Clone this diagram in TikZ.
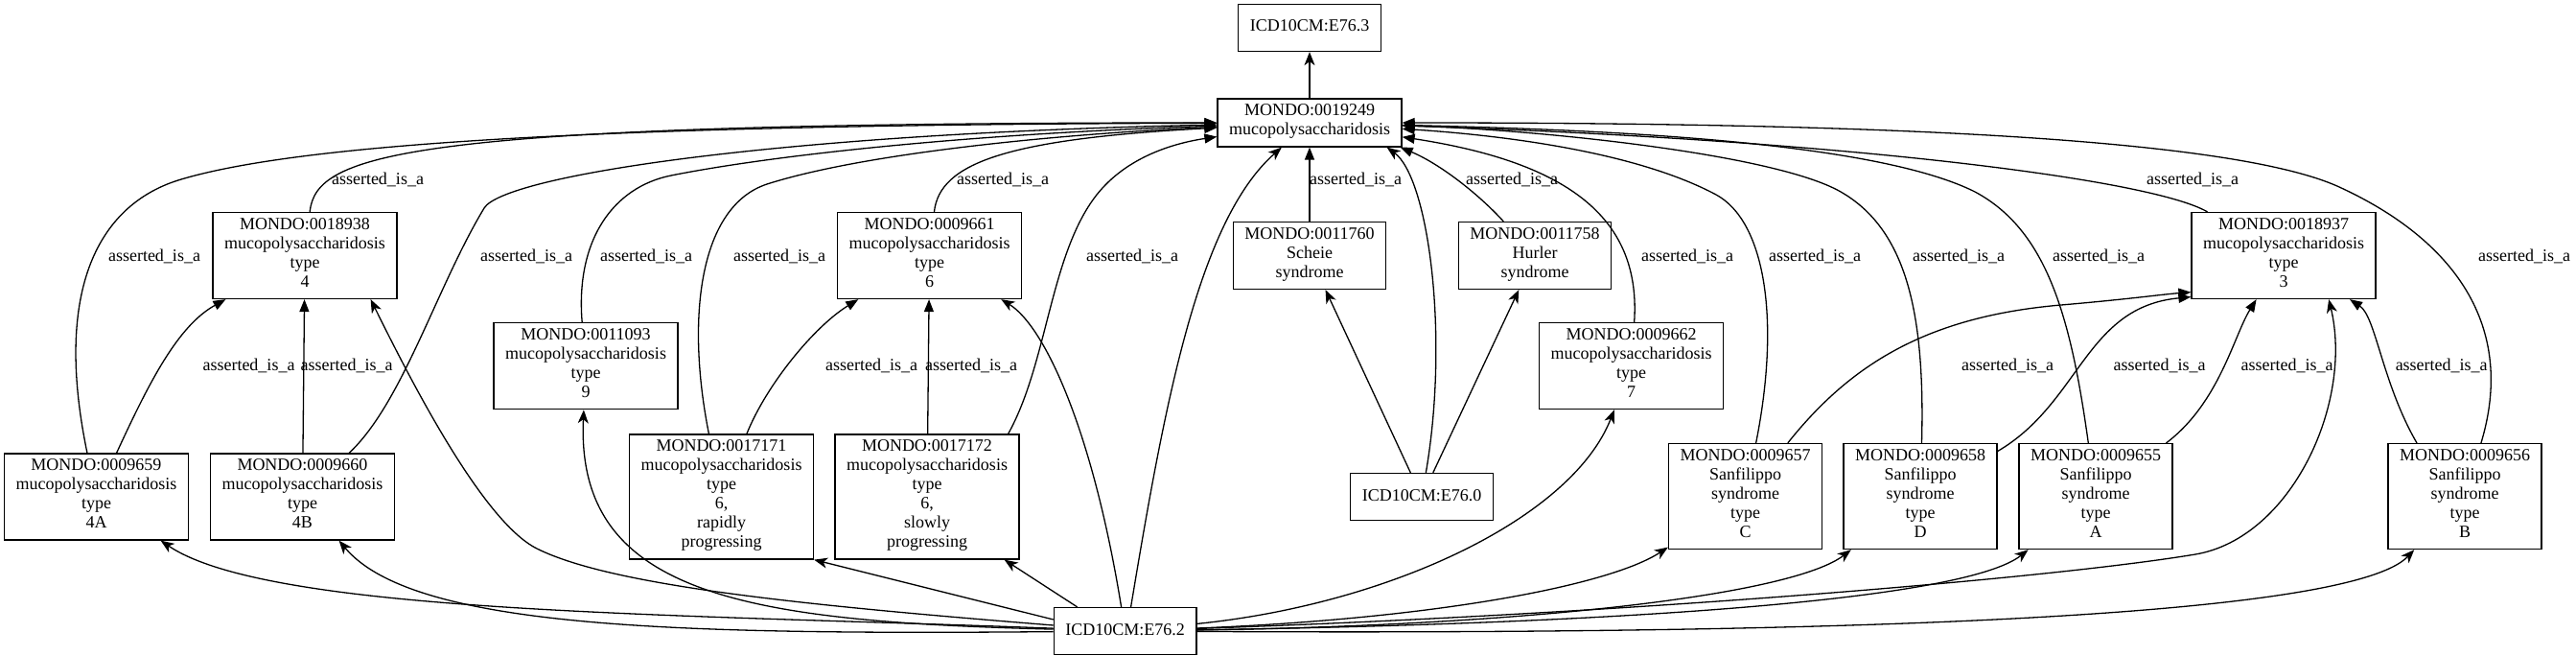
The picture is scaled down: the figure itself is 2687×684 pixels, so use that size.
\documentclass[tikz,border=0pt]{standalone}
\usepackage{fontspec}
\setmainfont{Liberation Serif}
\usetikzlibrary{arrows.meta}
\tikzset{
  term/.style={draw, rectangle, align=center, line width=0.65pt, inner xsep=6pt, inner ysep=3pt,
    minimum height=24.5pt, font=\fontsize{9}{10}\selectfont,
    execute at begin node=\strut, execute at end node=\strut},
  lbl/.style={font=\fontsize{9}{10}\selectfont, inner sep=0pt},
  isa/.style={line width=0.65pt, -{Triangle[length=6.5pt,width=5pt]}},
  xref/.style={line width=0.65pt, -{Stealth[length=7pt,width=5.5pt,inset=2pt]}}
}
\begin{document}
\begin{tikzpicture}[x=0.5pt,y=-0.5pt]
\useasboundingbox (0,0) rectangle (2687,684);

\node[term] (e763) at (1366,29) {ICD10CM:E76.3};
\node[term] (mps) at (1366,128) {MONDO:0019249\\mucopolysaccharidosis};
\node[term] (t4) at (318,266.5) {MONDO:0018938\\mucopolysaccharidosis\\type\\4};
\node[term] (t6) at (969.5,266.5) {MONDO:0009661\\mucopolysaccharidosis\\type\\6};
\node[term] (scheie) at (1366,266.5) {MONDO:0011760\\Scheie\\syndrome};
\node[term] (hurler) at (1601,266.5) {MONDO:0011758\\Hurler\\syndrome};
\node[term] (t3) at (2382,266.5) {MONDO:0018937\\mucopolysaccharidosis\\type\\3};
\node[term] (t9) at (611,381.7) {MONDO:0011093\\mucopolysaccharidosis\\type\\9};
\node[term] (t7) at (1701.5,381.7) {MONDO:0009662\\mucopolysaccharidosis\\type\\7};
\node[term] (t4a) at (100.5,518) {MONDO:0009659\\mucopolysaccharidosis\\type\\4A};
\node[term] (t4b) at (315.5,518) {MONDO:0009660\\mucopolysaccharidosis\\type\\4B};
\node[term] (t6r) at (752.5,518) {MONDO:0017171\\mucopolysaccharidosis\\type\\6,\\rapidly\\progressing};
\node[term] (t6s) at (967,518) {MONDO:0017172\\mucopolysaccharidosis\\type\\6,\\slowly\\progressing};
\node[term] (e760) at (1483,518) {ICD10CM:E76.0};
\node[term] (sfc) at (1820.5,517.6) {MONDO:0009657\\Sanfilippo\\syndrome\\type\\C};
\node[term] (sfd) at (2003,517.6) {MONDO:0009658\\Sanfilippo\\syndrome\\type\\D};
\node[term] (sfa) at (2186,517.6) {MONDO:0009655\\Sanfilippo\\syndrome\\type\\A};
\node[term] (sfb) at (2571,517.6) {MONDO:0009656\\Sanfilippo\\syndrome\\type\\B};
\node[term] (e762) at (1173.6,658) {ICD10CM:E76.2};

\draw[isa] (t4) .. controls (330,160) and (420,128) .. (mps) node[lbl] (l1) at (394,187) {asserted\_is\_a};
\draw[isa] (t4a) .. controls (55,300) and (104,212) .. (189,187) .. controls (330,145) and (700,130) .. (mps) node[lbl] (l2) at (161,267) {asserted\_is\_a};
\draw[isa] (t4a) .. controls (155,400) and (185,340) .. (t4) node[lbl] (l3) at (259.5,381.6) {asserted\_is\_a};
\draw[isa] (t4b) -- (t4) node[lbl] (l4) at (361.6,381.6) {asserted\_is\_a};
\draw[isa] (t4b) .. controls (420,420) and (455,300) .. (505,217) .. controls (525,184) and (800,140) .. (mps) node[lbl] (l5) at (549,267) {asserted\_is\_a};
\draw[isa] (t9) .. controls (600,250) and (640,195) .. (700,183) .. controls (800,163) and (1000,140) .. (mps) node[lbl] (l6) at (674,267) {asserted\_is\_a};
\draw[isa] (t6r) .. controls (715,330) and (730,215) .. (800,192) .. controls (900,160) and (1100,140) .. (mps) node[lbl] (l7) at (813,267) {asserted\_is\_a};
\draw[isa] (t6r) .. controls (800,400) and (850,340) .. (t6) node[lbl] (l8) at (909,381.6) {asserted\_is\_a};
\draw[isa] (t6s) -- (t6) node[lbl] (l9) at (1013,381.6) {asserted\_is\_a};
\draw[isa] (t6) .. controls (980,170) and (1050,145) .. (mps) node[lbl] (l10) at (1046,187) {asserted\_is\_a};
\draw[isa] ([xshift=-6pt]t6s.north east) .. controls (1092,380) and (1095,270) .. (1141,207) .. controls (1171,166) and (1220,150) .. (mps) node[lbl] (l11) at (1181,267) {asserted\_is\_a};
\draw[isa] (scheie) -- (mps) node[lbl] (l12) at (1414,187) {asserted\_is\_a};
\draw[isa] (hurler) .. controls (1540,200) and (1500,170) .. ([xshift=-1pt]mps.south east) node[lbl] (l13) at (1577,187) {asserted\_is\_a};
\draw[isa] (t7) .. controls (1712,230) and (1640,170) .. (mps) node[lbl] (l14) at (1760,267) {asserted\_is\_a};
\draw[isa] (sfc) .. controls (1858,330) and (1840,230) .. (1790,203) .. controls (1700,155) and (1550,140) .. (mps) node[lbl] (l15) at (1893,267) {asserted\_is\_a};
\draw[isa] (sfd) .. controls (2008,330) and (1990,240) .. (1920,200) .. controls (1850,160) and (1600,135) .. (mps) node[lbl] (l16) at (2043,267) {asserted\_is\_a};
\draw[isa] (sfa) .. controls (2160,330) and (2135,240) .. (2060,200) .. controls (1950,145) and (1650,135) .. (mps) node[lbl] (l17) at (2189,267) {asserted\_is\_a};
\draw[isa] (t3) .. controls (2240,185) and (1900,145) .. (mps) node[lbl] (l18) at (2287,187) {asserted\_is\_a};
\draw[isa] (sfb) .. controls (2625,340) and (2560,250) .. (2440,195) .. controls (2320,140) and (1900,128) .. (mps) node[lbl] (l19) at (2633,267) {asserted\_is\_a};
\draw[isa] (sfc) .. controls (1930,380) and (2010,330) .. (2150,318) .. controls (2220,312) and (2255,307) .. ([yshift=3.75pt]t3.south west) node[lbl] (l20) at (2094,381.6) {asserted\_is\_a};
\draw[isa] (sfd) .. controls (2170,420) and (2175,320) .. ([yshift=1.25pt]t3.south west) node[lbl] (l21) at (2252.6,381.6) {asserted\_is\_a};
\draw[isa] (sfa) .. controls (2315,420) and (2330,350) .. (t3) node[lbl] (l22) at (2385.5,381.6) {asserted\_is\_a};
\draw[isa] ([xshift=-25pt]sfb.north) .. controls (2485,400) and (2478,330) .. (t3) node[lbl] (l23) at (2546.7,381.6) {asserted\_is\_a};

\draw[xref] (mps) -- (e763);
\draw[xref] (e760) -- (scheie);
\draw[xref] (e760) -- (hurler);
\draw[xref] (e760) .. controls (1512,350) and (1490,185) .. ([xshift=-8pt]mps.south east);
\draw[xref] (e762) .. controls (700,640) and (280,640) .. (t4a);
\draw[xref] (e762) .. controls (700,662) and (430,655) .. (t4b);
\draw[xref] (e762) .. controls (850,632) and (640,612) .. (560,572) .. controls (504,544) and (430,400) .. ([xshift=-14pt]t4.south east);
\draw[xref] (e762) .. controls (780,648) and (600,622) .. (t9);
\draw[xref] ([yshift=6pt]e762.west) -- (t6r.south east);
\draw[xref] ([xshift=-25pt]e762.north) -- ([xshift=-8pt]t6s.south east);
\draw[xref] ([xshift=-2pt]e762.north) .. controls (1140,450) and (1090,340) .. (t6);
\draw[xref] ([xshift=3pt]e762.north) .. controls (1215,420) and (1250,230) .. (mps);
\draw[xref] (e762) .. controls (1450,630) and (1640,540) .. (t7);
\draw[xref] (e762) .. controls (1500,645) and (1680,610) .. (sfc);
\draw[xref] (e762) .. controls (1600,652) and (1870,620) .. (sfd);
\draw[xref] (e762) .. controls (1700,650) and (2050,625) .. (sfa);
\draw[xref] (e762) .. controls (1700,640) and (2140,603) .. (2290,578) .. controls (2390,561) and (2455,420) .. ([xshift=-24.75pt]t3.south east);
\draw[xref] (e762) .. controls (1900,662) and (2450,645) .. (sfb);
\end{tikzpicture}
\end{document}
